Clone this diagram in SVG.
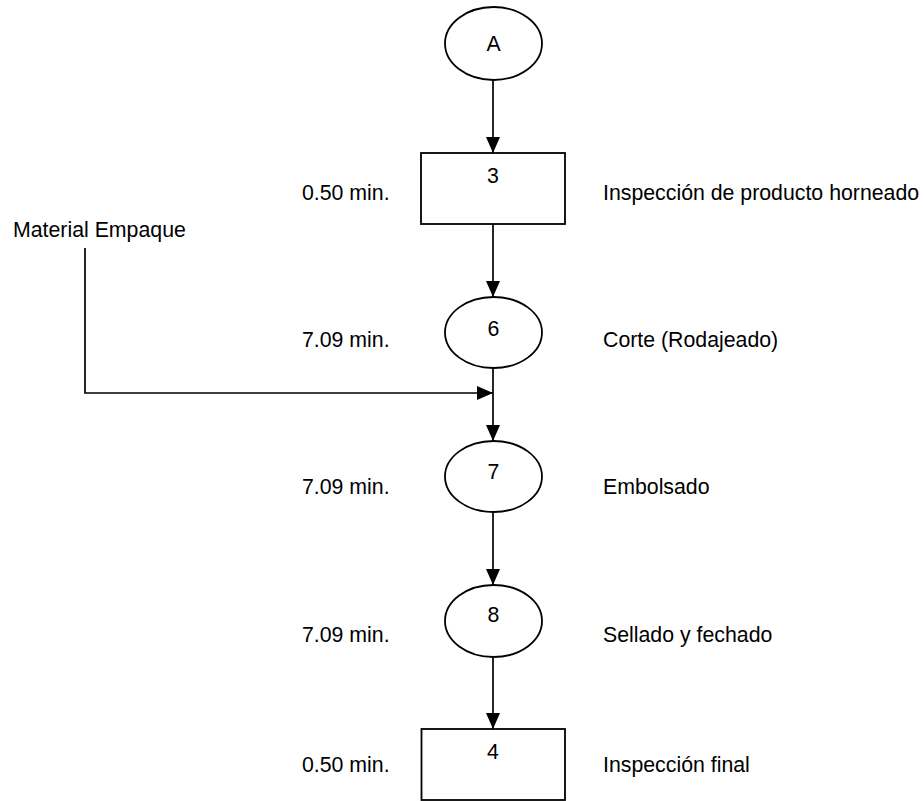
<svg xmlns="http://www.w3.org/2000/svg" width="924" height="801" viewBox="0 0 924 801">
  <style>
    text { font-family: "Liberation Sans", Arial, sans-serif; font-size: 21.3px; fill: #000; }
    .mid { text-anchor: middle; }
    .shape { fill: #fff; stroke: #000; stroke-width: 1.8; }
    .flow { fill: none; stroke: #000; stroke-width: 1.7; }
  </style>
  <defs>
    <marker id="arrow" markerUnits="userSpaceOnUse" markerWidth="17" markerHeight="15" refX="16" refY="7" orient="auto">
      <path d="M0,0 L16,7 L0,14 Z" fill="#000"/>
    </marker>
  </defs>

  <rect width="924" height="801" fill="#fff"/>

  <!-- connectors -->
  <g id="connectors">
    <line class="flow" x1="493" y1="80" x2="493" y2="153" marker-end="url(#arrow)"/>
    <line class="flow" x1="493" y1="224" x2="493" y2="297" marker-end="url(#arrow)"/>
    <line class="flow" x1="493" y1="368" x2="493" y2="441" marker-end="url(#arrow)"/>
    <line class="flow" x1="493" y1="512" x2="493" y2="585" marker-end="url(#arrow)"/>
    <line class="flow" x1="493" y1="657" x2="493" y2="729" marker-end="url(#arrow)"/>
    <polyline class="flow" points="85,248 85,393 493,393" marker-end="url(#arrow)"/>
  </g>

  <!-- nodes -->
  <g id="node-A">
    <ellipse class="shape" cx="493.5" cy="43.5" rx="48.5" ry="36.5"/>
    <text class="mid" x="493.5" y="51">A</text>
  </g>

  <g id="node-3">
    <rect class="shape" x="421" y="153" width="144" height="71"/>
    <text class="mid" x="493" y="183">3</text>
    <text x="302" y="200">0.50 min.</text>
    <text x="603" y="200">Inspección de producto horneado</text>
  </g>

  <g id="material">
    <text x="13" y="237">Material Empaque</text>
  </g>

  <g id="node-6">
    <ellipse class="shape" cx="493.5" cy="332.5" rx="48.5" ry="35.5"/>
    <text class="mid" x="493.5" y="336">6</text>
    <text x="302" y="347">7.09 min.</text>
    <text x="603" y="347">Corte (Rodajeado)</text>
  </g>

  <g id="node-7">
    <ellipse class="shape" cx="493.5" cy="476.5" rx="48.5" ry="35.5"/>
    <text class="mid" x="493.5" y="479">7</text>
    <text x="302" y="494">7.09 min.</text>
    <text x="603" y="494">Embolsado</text>
  </g>

  <g id="node-8">
    <ellipse class="shape" cx="493.5" cy="621" rx="48.5" ry="36"/>
    <text class="mid" x="493.5" y="622">8</text>
    <text x="302" y="642">7.09 min.</text>
    <text x="603" y="642">Sellado y fechado</text>
  </g>

  <g id="node-4">
    <rect class="shape" x="421.5" y="729" width="143.5" height="71"/>
    <text class="mid" x="493" y="759">4</text>
    <text x="302" y="772">0.50 min.</text>
    <text x="603" y="772">Inspección final</text>
  </g>
</svg>
